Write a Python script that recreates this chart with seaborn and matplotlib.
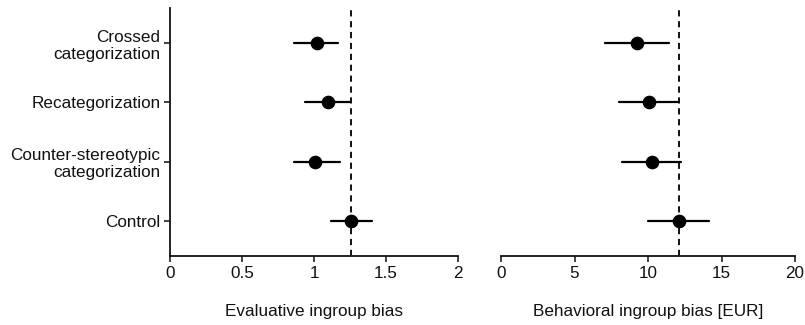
import numpy as np
import pandas as pd
import matplotlib
matplotlib.use("Agg")
import matplotlib.pyplot as plt
import seaborn as sns

categories = ["Crossed\ncategorization", "Recategorization",
              "Counter-stereotypic\ncategorization", "Control"]

eval_mean = [1.02, 1.10, 1.01, 1.26]
eval_low = [0.86, 0.94, 0.86, 1.12]
eval_high = [1.17, 1.25, 1.18, 1.40]
eval_ref = 1.26

beh_mean = [9.25, 10.1, 10.25, 12.1]
beh_low = [7.05, 8.05, 8.2, 10.0]
beh_high = [11.45, 12.1, 12.25, 14.15]
beh_ref = 12.1

eval_ticks = [0, 0.5, 1, 1.5, 2]
eval_ticklabels = ["0", "0.5", "1", "1.5", "2"]
beh_ticks = [0, 5, 10, 15, 20]
beh_ticklabels = ["0", "5", "10", "15", "20"]

sns.set_theme(style="ticks")
plt.rcParams["font.family"] = ["Liberation Sans", "DejaVu Sans"]

def long_df(lo, mid, hi):
    rows = []
    for c, a, b, d in zip(categories, lo, mid, hi):
        for v in (a, b, d):
            rows.append({"cond": c, "value": v})
    return pd.DataFrame(rows)

fig = plt.figure(figsize=(8.05, 3.25), dpi=100)
ax1 = fig.add_axes([170/805, 69/325, 288/805, 248/325])
ax2 = fig.add_axes([501/805, 69/325, 294/805, 248/325])

ink = "#111111"
panels = [
    (ax1, long_df(eval_low, eval_mean, eval_high), eval_ref, (0, 2), eval_ticks, eval_ticklabels, "Evaluative ingroup bias"),
    (ax2, long_df(beh_low, beh_mean, beh_high), beh_ref, (0, 20), beh_ticks, beh_ticklabels, "Behavioral ingroup bias [EUR]"),
]

for ax, df, ref, xlim, ticks, tlabels, xlabel in panels:
    ax.axvline(ref, color=ink, linestyle=(0, (3.2, 2.4)), linewidth=1.4, zorder=1)
    sns.pointplot(data=df, x="value", y="cond", order=categories,
                  estimator="median", errorbar=("pi", 100),
                  linestyle="none", marker="o", markersize=7.8,
                  color="black", err_kws={"linewidth": 1.6},
                  orient="h", ax=ax, zorder=3)
    ax.set_xlim(*xlim)
    ax.set_ylim(3.6, -0.6)
    ax.set_xticks(ticks)
    ax.set_xticklabels(tlabels)
    ax.set_xlabel(xlabel, fontsize=12.3, labelpad=17, color=ink)
    ax.set_ylabel("")
    ax.tick_params(axis="x", labelsize=12.3, length=4, width=1.1, colors=ink, pad=3)
    ax.tick_params(axis="y", labelsize=12.3, length=4, width=1.1, colors=ink, pad=3)
    for s in ["top", "right"]:
        ax.spines[s].set_visible(False)
    ax.spines["bottom"].set_linewidth(1.3)
    ax.spines["bottom"].set_color(ink)
    ax.spines["left"].set_linewidth(1.3)
    ax.spines["left"].set_color(ink)

for lab in ax1.get_yticklabels():
    lab.set_horizontalalignment("right")
    lab.set_multialignment("right")
    lab.set_linespacing(1.2)

ax2.spines["left"].set_visible(False)
ax2.tick_params(axis="y", left=False, labelleft=False)

fig.savefig("out.png", dpi=100)
